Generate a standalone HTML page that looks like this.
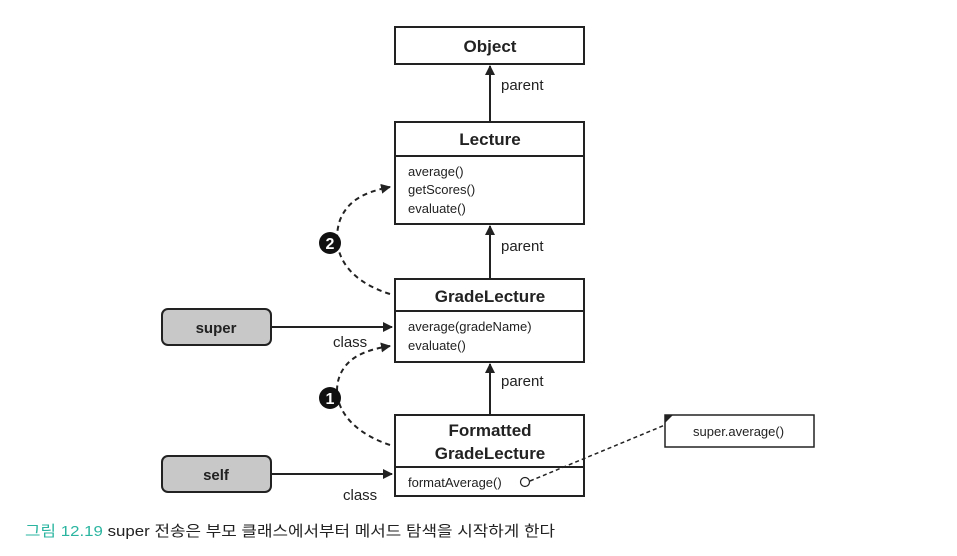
<!DOCTYPE html>
<html><head><meta charset="utf-8"><style>
html,body{margin:0;padding:0;background:#fff;}
svg{display:block;}
text{font-family:"Liberation Sans","Noto Sans CJK KR",sans-serif;fill:#222;}
.b{font-weight:bold;font-size:17px;}
.m{font-size:13px;}
.l{font-size:15px;}
</style></head><body>
<svg width="957" height="556" viewBox="0 0 957 556" xmlns="http://www.w3.org/2000/svg">
<defs>
<marker id="a" markerWidth="10" markerHeight="10" refX="9" refY="5" orient="auto" markerUnits="userSpaceOnUse">
<path d="M0,0 L10,5 L0,10 z" fill="#222"/></marker>
</defs>
<g stroke="#222" stroke-width="2" fill="#fff">
<rect x="395" y="27" width="189" height="37"/>
<rect x="395" y="122" width="189" height="102"/>
<line x1="395" y1="156" x2="584" y2="156"/>
<rect x="395" y="279" width="189" height="83"/>
<line x1="395" y1="311" x2="584" y2="311"/>
<rect x="395" y="415" width="189" height="81"/>
<line x1="395" y1="467" x2="584" y2="467"/>
<rect x="162" y="309" width="109" height="36" rx="6" fill="#c8c8c8"/>
<rect x="162" y="456" width="109" height="36" rx="6" fill="#c8c8c8"/>
<rect x="665" y="415" width="149" height="32" stroke-width="1.5"/>
</g>
<path d="M665,415 L673,415 L665,423 z" fill="#222"/>
<g stroke="#222" stroke-width="2" fill="none">
<line x1="490" y1="122" x2="490" y2="66" marker-end="url(#a)"/>
<line x1="490" y1="279" x2="490" y2="226" marker-end="url(#a)"/>
<line x1="490" y1="415" x2="490" y2="364" marker-end="url(#a)"/>
<line x1="272" y1="327" x2="392" y2="327" marker-end="url(#a)"/>
<line x1="272" y1="474" x2="392" y2="474" marker-end="url(#a)"/>
<path d="M390,294 C345,280 330,250 340,220 C348,200 365,192 390,187" stroke-dasharray="5,4" marker-end="url(#a)"/>
<path d="M390,445 C345,430 330,400 340,375 C348,357 365,350 390,346" stroke-dasharray="5,4" marker-end="url(#a)"/>
<path d="M530,481 L665,425" stroke-dasharray="4,3" stroke-width="1.5"/>
</g>
<circle cx="525" cy="482" r="4.5" fill="#fff" stroke="#222" stroke-width="1.2"/>
<circle cx="330" cy="243" r="11" fill="#111"/>
<text x="330" y="249" text-anchor="middle" style="fill:#fff;font-weight:bold;font-size:16px">2</text>
<circle cx="330" cy="398" r="11" fill="#111"/>
<text x="330" y="404" text-anchor="middle" style="fill:#fff;font-weight:bold;font-size:16px">1</text>
<text class="b" x="490" y="52" text-anchor="middle">Object</text>
<text class="b" x="490" y="145" text-anchor="middle">Lecture</text>
<text class="b" x="490" y="302" text-anchor="middle">GradeLecture</text>
<text class="b" x="490" y="436" text-anchor="middle">Formatted</text>
<text class="b" x="490" y="459" text-anchor="middle">GradeLecture</text>
<text class="b" x="216" y="333" text-anchor="middle" style="font-size:15px">super</text>
<text class="b" x="216" y="480" text-anchor="middle" style="font-size:15px">self</text>
<text class="m" x="408" y="176">average()</text>
<text class="m" x="408" y="194">getScores()</text>
<text class="m" x="408" y="213">evaluate()</text>
<text class="m" x="408" y="331">average(gradeName)</text>
<text class="m" x="408" y="350">evaluate()</text>
<text class="m" x="408" y="487">formatAverage()</text>
<text class="m" x="693" y="436">super.average()</text>
<text class="l" x="501" y="90">parent</text>
<text class="l" x="501" y="251">parent</text>
<text class="l" x="501" y="386">parent</text>
<text class="l" x="333" y="347">class</text>
<text class="l" x="343" y="500">class</text>
<text x="25" y="536" textLength="530" lengthAdjust="spacingAndGlyphs" style="font-size:15px"><tspan style="fill:#2bb5a0">그림 12.19</tspan> super 전송은 부모 클래스에서부터 메서드 탐색을 시작하게 한다</text>
</svg>
</body></html>
